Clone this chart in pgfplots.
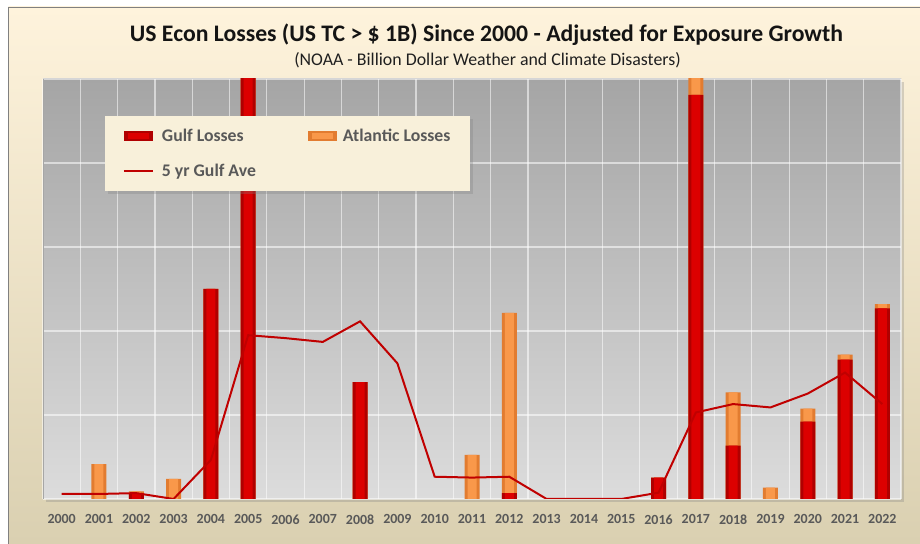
\documentclass[border=0pt]{standalone}
\usepackage{pgfplots}
\pgfplotsset{compat=1.18}
\usepackage{fontspec}
\setmainfont{Carlito}
\usetikzlibrary{shadows}
\definecolor{creamtop}{HTML}{FEF3DC}
\definecolor{creambot}{HTML}{DAD0B1}
\definecolor{plottop}{HTML}{A5A5A5}
\definecolor{plotbot}{HTML}{DCDCDC}
\definecolor{gulfmid}{HTML}{DC0000}
\definecolor{gulfedge}{HTML}{B00000}
\definecolor{atlmid}{HTML}{F9984A}
\definecolor{atledge}{HTML}{E27C30}
\definecolor{avecol}{HTML}{C00000}
\definecolor{legcream}{HTML}{F8F0DA}
\definecolor{labcol}{HTML}{595959}

% Gulf + Atlantic (top of stacked bar); years with no losses omitted
\pgfplotstableread{
x total
1 8.3
2 1.8
3 4.8
4 50
5 138
8 27.8
11 10.5
12 44.3
16 5.1
17 104
18 25.4
19 2.7
20 21.5
21 34.4
22 46.4
}\totaltab

\pgfplotstableread{
x gulf
2 1.2
4 50
5 138
8 27.8
12 1.4
16 5.1
17 96.2
18 12.7
20 18.4
21 33.2
22 45.4
}\gulftab

\pgfplotstableread{
x ave
0 1.2
1 1.2
2 1.4
3 0
4 9.3
5 39
6 38.3
7 37.4
8 42.3
9 32.3
10 5.3
11 5.1
12 5.3
13 0
14 0
15 0
16 1.5
17 20.6
18 22.6
19 21.8
20 25.1
21 30.1
22 22.6
}\avetab

\begin{document}
\begin{tikzpicture}[x=1bp,y=1bp]
\useasboundingbox (0,0) rectangle (920,544);
\fill[white] (0,0) rectangle (920,544);
\shade[top color=creamtop, bottom color=creambot] (8.3,0) rectangle (920,537);
\draw[gray, line width=0.8bp] (8.3,0) -- (8.3,537) -- (920,537);
\node[font=\fontsize{23.8}{28}\selectfont\bfseries, text=black!92] at (486.5,509) {US Econ Losses (US TC > \$ 1B) Since 2000 - Adjusted for Exposure Growth};
\node[font=\fontsize{17.9}{21}\selectfont, text=black!88] at (487.5,484) {(NOAA - Billion Dollar Weather and Climate Disasters)};
\begin{axis}[
  at={(43bp,45bp)}, anchor=south west,
  scale only axis, width=858bp, height=420bp,
  xmin=-0.5, xmax=22.5, ymin=0, ymax=100,
  axis background/.style={shade, top color=plottop, bottom color=plotbot,
     drop shadow={shadow xshift=3bp, shadow yshift=-3bp, opacity=0.3}},
  xtick={0,...,22},
  xticklabels={2000,2001,2002,2003,2004,2005,2006,2007,2008,2009,2010,2011,2012,2013,2014,2015,2016,2017,2018,2019,2020,2021,2022},
  xticklabel style={font=\fontsize{14}{16}\selectfont\bfseries, text=labcol, yshift=-12bp},
  minor xtick={-0.5,0.5,...,22.5},
  xminorgrids, ymajorgrids,
  ytick={0,20,...,100}, yticklabels={},
  major tick length=0pt, minor tick length=0pt,
  grid style={draw=white, opacity=0.55, line width=1.2bp},
  minor grid style={draw=white, opacity=0.55, line width=1.2bp},
  axis line style={draw=none},
  legend columns=2,
  legend cell align=left,
  legend style={at={(0.072,0.912)}, anchor=north west,
     fill=legcream, draw=none,
     drop shadow={shadow xshift=3bp, shadow yshift=-3bp, opacity=0.3},
     font=\fontsize{17.8}{21}\selectfont\bfseries, text=labcol,
     inner xsep=18bp, inner ysep=11bp,
     row sep=17bp,
     /tikz/column 1/.style={column sep=6bp},
     /tikz/column 2/.style={column sep=50bp},
     /tikz/column 3/.style={column sep=4bp}},
]
\addlegendimage{legend image code/.code={%
  \pgfsetfillcolor{gulfedge}\pgfpathrectangle{\pgfpoint{0bp}{-4.8bp}}{\pgfpoint{29bp}{9.6bp}}\pgfusepath{fill}%
  \pgfsetfillcolor{gulfmid}\pgfpathrectangle{\pgfpoint{4bp}{-3bp}}{\pgfpoint{21bp}{6bp}}\pgfusepath{fill}}}
\addlegendentry{Gulf Losses}
\addlegendimage{legend image code/.code={%
  \pgfsetfillcolor{atledge}\pgfpathrectangle{\pgfpoint{0bp}{-4.8bp}}{\pgfpoint{29bp}{9.6bp}}\pgfusepath{fill}%
  \pgfsetfillcolor{atlmid}\pgfpathrectangle{\pgfpoint{4bp}{-3bp}}{\pgfpoint{21bp}{6bp}}\pgfusepath{fill}}}
\addlegendentry{Atlantic Losses}
\addlegendimage{legend image code/.code={%
  \pgfsetstrokecolor{avecol}\pgfsetlinewidth{2bp}\pgfpathmoveto{\pgfpoint{0bp}{0bp}}\pgfpathlineto{\pgfpoint{29bp}{0bp}}\pgfusepath{stroke}}}
\addlegendentry{5 yr Gulf Ave}

\draw[black!30, line width=2.5bp] ([yshift=-1.8bp]rel axis cs:0,0) -- ([yshift=-1.8bp]rel axis cs:1,0);
\draw[gray!70, line width=1.5bp] (rel axis cs:0,0) -- (rel axis cs:0,1);
\addplot[forget plot, ybar, bar width=15bp, bar shift=0pt, draw=none, fill=atledge] table[x=x, y=total] {\totaltab};
\addplot[forget plot, ybar, bar width=9bp, bar shift=0pt, draw=none, fill=atlmid] table[x=x, y=total] {\totaltab};
\addplot[forget plot, ybar, bar width=15bp, bar shift=0pt, draw=none, fill=gulfedge] table[x=x, y=gulf] {\gulftab};
\addplot[forget plot, ybar, bar width=9bp, bar shift=0pt, draw=none, fill=gulfmid] table[x=x, y=gulf] {\gulftab};
\addplot[forget plot, avecol, line width=2bp, no marks, sharp plot] table[x=x, y=ave] {\avetab};
\end{axis}
\end{tikzpicture}
\end{document}
